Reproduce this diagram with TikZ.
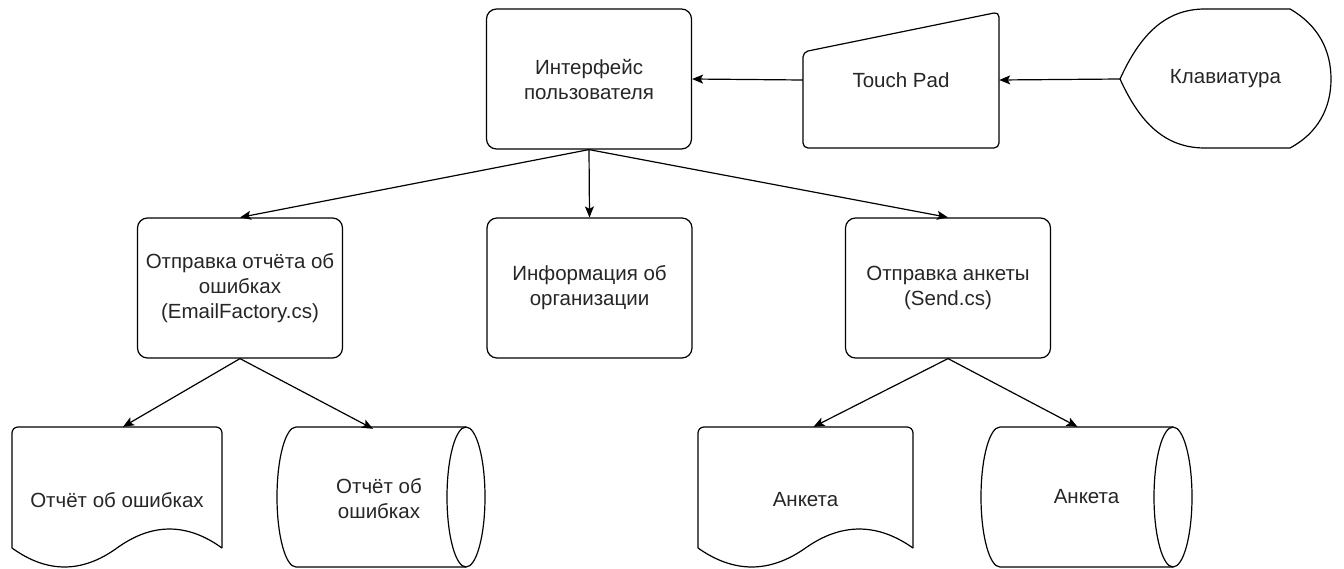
\documentclass[tikz,border=0pt]{standalone}
\usepackage{fontspec}
\setmainfont{Liberation Sans}
\usetikzlibrary{arrows.meta}
\tikzset{
  lw/.style={line width=1.2pt},
  procbox/.style={draw, lw, rounded corners=10pt, minimum width=205pt, minimum height=140pt, align=center, inner sep=2pt},
  area/.style={draw=none, align=center, inner sep=0pt},
  conn/.style={lw, -{Stealth[length=11pt, width=9pt, inset=2.5pt]}},
  txt/.style={font=\fontsize{20.5}{25}\selectfont, text=black!85}
}
\begin{document}
\begin{tikzpicture}[x=1pt, y=-1pt]
\useasboundingbox (0,0) rectangle (1344,568);
\fill[white] (0,0) rectangle (1344,568);

% top row
\node[procbox, txt] (iface) at (589,79) {Интерфейс\\пользователя};
\draw[lw, rounded corners=5pt] (803,52) -- (999,12) -- (999,148) -- (803,148) -- cycle;
\node[area, txt, minimum width=196pt, minimum height=136pt] (tpad) at (901,80) {Touch Pad};
\draw[lw] (1120,79) .. controls (1140,35) and (1165,9) .. (1205,9) -- (1290,9)
  .. controls (1318,25) and (1331,50) .. (1331,79)
  .. controls (1331,108) and (1318,133) .. (1290,148) -- (1205,148)
  .. controls (1165,148) and (1140,123) .. (1120,79) -- cycle;
\node[area, txt, minimum width=211pt, minimum height=139pt] (keyb) at (1225.5,79) {Клавиатура};

% middle row
\node[procbox, txt] (send1) at (240,288) {Отправка отчёта об\\ошибках\\(EmailFactory.cs)};
\node[procbox, txt] (info) at (589.5,288) {Информация об\\организации};
\node[procbox, txt] (send2) at (948,288) {Отправка анкеты\\(Send.cs)};

% bottom row: documents
\draw[lw, rounded corners=6pt] (12,548) -- (12,427) -- (222,427) -- (222,548);
\draw[lw] (222,548) .. controls (187,522.7) and (152,522.7) .. (117,548)
  .. controls (82,573.3) and (47,573.3) .. (12,548);
\node[area, txt, minimum width=210pt, minimum height=146pt] (doc1) at (117,500) {Отчёт об ошибках};

\draw[lw, rounded corners=6pt] (698,548) -- (698,427) -- (913,427) -- (913,548);
\draw[lw] (913,548) .. controls (877.2,522.7) and (841.3,522.7) .. (805.5,548)
  .. controls (769.7,573.3) and (733.8,573.3) .. (698,548);
\node[area, txt, minimum width=215pt, minimum height=146pt] (doc2) at (805.5,500) {Анкета};

% bottom row: cylinders
\draw[lw] (466,427) -- (296,427) arc[start angle=-90, end angle=-270, x radius=19, y radius=70] -- (466,567);
\draw[lw] (466,497) ellipse [x radius=19, y radius=70];
\node[area, txt, minimum width=208pt, minimum height=140pt] (cyl1) at (379,499) {Отчёт об\\ошибках};

\draw[lw] (1173,427) -- (1000,427) arc[start angle=-90, end angle=-270, x radius=19, y radius=70] -- (1173,567);
\draw[lw] (1173,497) ellipse [x radius=19, y radius=70];
\node[area, txt, minimum width=211pt, minimum height=140pt] (cyl2) at (1086.5,497) {Анкета};

% connectors
\draw[conn] (keyb.west) -- (tpad.east);
\draw[conn] (tpad.west) -- (iface.east);
\draw[conn] (iface.south) -- (send1.north);
\draw[conn] (iface.south) -- (info.north);
\draw[conn] (iface.south) -- (send2.north);
\draw[conn] (send1.south) -- ([xshift=6pt]doc1.north);
\draw[conn] (send1.south) -- ([xshift=-6pt]cyl1.north);
\draw[conn] (send2.south) -- ([xshift=8pt]doc2.north);
\draw[conn] (send2.south) -- ([xshift=-9pt]cyl2.north);
\end{tikzpicture}
\end{document}
